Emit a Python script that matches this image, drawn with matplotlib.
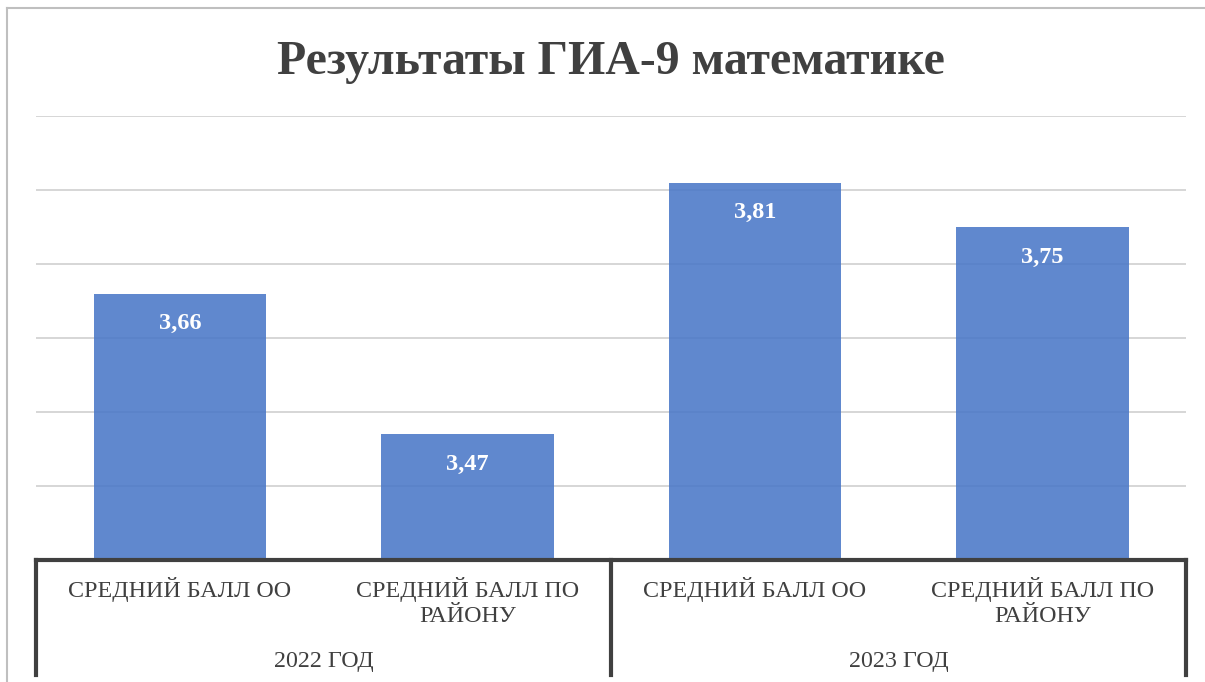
import matplotlib.pyplot as plt
from matplotlib.lines import Line2D
from matplotlib.transforms import blended_transform_factory

plt.rcParams['font.family'] = ['Liberation Serif', 'DejaVu Serif']

title = "Результаты ГИА-9 математике"
groups = ["2022 ГОД", "2023 ГОД"]
categories = ["СРЕДНИЙ БАЛЛ ОО", "СРЕДНИЙ БАЛЛ ПО\nРАЙОНУ",
              "СРЕДНИЙ БАЛЛ ОО", "СРЕДНИЙ БАЛЛ ПО\nРАЙОНУ"]
values = [3.66, 3.47, 3.81, 3.75]
labels = ["3,66", "3,47", "3,81", "3,75"]

text_col = "#404040"
bar_col = "#4a78c8"

fig = plt.figure(figsize=(12.05, 6.82), dpi=100)
ax = fig.add_axes([36/1205, 1-560/682, (1186-36)/1205, (560-116)/682])

x = list(range(len(values)))
bars = ax.bar(x, values, width=0.6, color=bar_col, alpha=0.88, zorder=2)
ax.set_xlim(-0.5, len(values) - 0.5)
ax.set_ylim(3.3, 3.9)
ax.set_yticks([3.4, 3.5, 3.6, 3.7, 3.8, 3.9])
ax.grid(axis='y', color='#d0d0d0', linewidth=1.2, zorder=1)
ax.set_yticklabels([])
ax.tick_params(left=False, bottom=False, labelbottom=False)
for s in ['left', 'right', 'top']:
    ax.spines[s].set_visible(False)
ax.spines['bottom'].set_color(text_col)
ax.spines['bottom'].set_linewidth(3)
ax.spines['bottom'].set_zorder(3)

for xi, v, lab in zip(x, values, labels):
    ax.annotate(lab, (xi, v), xytext=(0, -30), textcoords='offset pixels',
                ha='center', va='center', color='white', fontsize=17.5,
                fontweight='bold', zorder=4)

trans = blended_transform_factory(ax.transData, ax.transAxes)
px = 1 / 444
for xi, cat in zip(x, categories):
    ax.text(xi, -17 * px, cat, transform=trans, ha='center', va='top',
            fontsize=17.3, color=text_col, linespacing=1.22)

for gi, g in enumerate(groups):
    ax.text(gi * 2 + 0.5, -102 * px, g, transform=trans, ha='center',
            va='center', fontsize=17.3, color=text_col)

for xs in [-0.5, 1.5, 3.5]:
    ax.add_line(Line2D([xs, xs], [0, -115 * px], transform=trans,
                       color=text_col, linewidth=3, clip_on=False))

ax.set_title(title, fontsize=34.5, fontweight='bold', color=text_col,
             pad=30)

# chart border
fig.add_artist(Line2D([7/1205, 7/1205], [0, 1-8/682], color='#bfbfbf', linewidth=1.5))
fig.add_artist(Line2D([7/1205, 1], [1-8/682, 1-8/682], color='#bfbfbf', linewidth=1.5))

fig.savefig("out.png", dpi=100)
